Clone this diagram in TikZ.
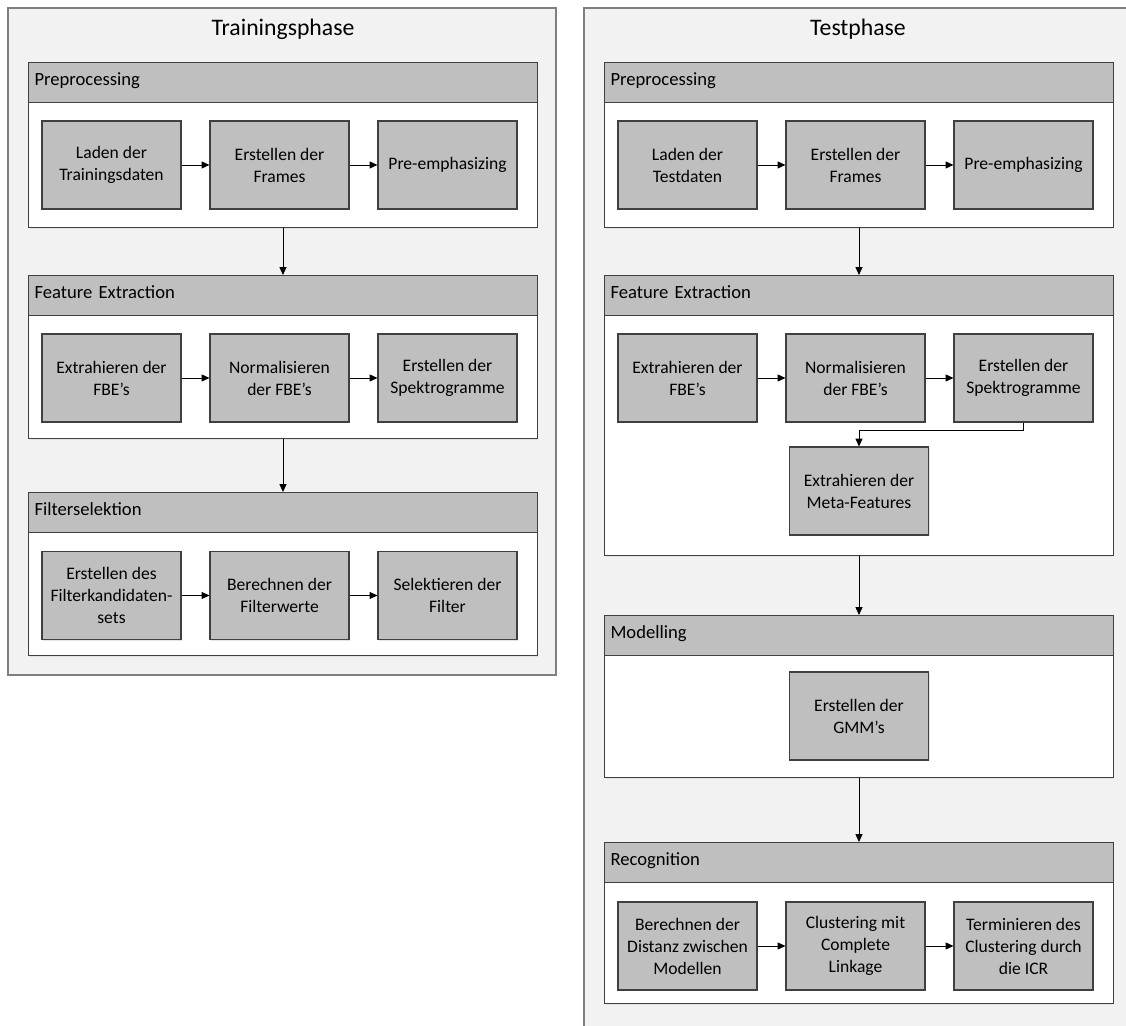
\documentclass[tikz,border=0pt]{standalone}
\usepackage{fontspec}
\setmainfont{Carlito}
\usetikzlibrary{arrows.meta, positioning, shadows}
\definecolor{panelbg}{HTML}{F2F2F2}
\definecolor{boxfill}{HTML}{BFBFBF}
\definecolor{edge}{HTML}{404040}
\definecolor{paneledge}{HTML}{7F7F7F}

\begin{document}
\begin{tikzpicture}[
    x=0.02cm, y=-0.02cm,
    panel/.style={draw=paneledge, fill=panelbg, line width=0.8pt},
    title/.style={font=\fontsize{13.5}{15}\selectfont},
    head/.style={draw=edge, fill=boxfill, anchor=north west, line width=0.6pt,
                 minimum width=10.18cm, minimum height=0.8cm, inner xsep=0.12cm,
                 text width=9.94cm, align=left, text depth=0.12cm,
                 font=\fontsize{10.6}{12}\selectfont},
    body/.style={draw=edge, fill=white, anchor=north west, line width=0.6pt,
                 minimum width=10.18cm,
                 drop shadow={opacity=0.15, shadow xshift=0.6pt, shadow yshift=-0.6pt}},
    stepbox/.style={draw=edge, fill=boxfill, line width=0.6pt,
                    minimum width=2.78cm, minimum height=1.76cm, align=center,
                    inner sep=1pt, font=\fontsize{10}{12.5}\selectfont,
                    drop shadow={opacity=0.2, shadow xshift=0.6pt, shadow yshift=-0.6pt}},
    flow/.style={-{Triangle[length=4.5pt, width=4pt]}, line width=0.5pt, draw=black}
  ]
  \clip (0,0) rectangle (1126,1026);

  % Trainingsphase
  \draw[panel] (8,8) rectangle (556,675);
  \node[title] (ttitle) at (283,29) {Trainingsphase};

  \node[head] (tprehead) at (28,62) {Preprocessing};
  \node[body, minimum height=2.5cm] (tprebody) at (28,102) {};
  \node[stepbox] (tload) at (111.5,165) {Laden der\\Trainingsdaten};
  \node[stepbox] (tframes) at (279.5,165) {Erstellen der\\Frames};
  \node[stepbox] (temph) at (447.5,165) {Pre-emphasizing};

  \node[head] (tfeathead) at (28,275) {Feature Extraction};
  \node[body, minimum height=2.46cm] (tfeatbody) at (28,315) {};
  \node[stepbox] (tfbe) at (111.5,378) {Extrahieren der\\FBE’s};
  \node[stepbox] (tnorm) at (279.5,378) {Normalisieren\\der FBE’s};
  \node[stepbox] (tspec) at (447.5,378) {Erstellen der\\Spektrogramme};

  \node[head] (tfilthead) at (28,492) {Filterselektion};
  \node[body, minimum height=2.46cm] (tfiltbody) at (28,532) {};
  \node[stepbox] (tcand) at (111.5,595.5) {Erstellen des\\Filterkandidaten-\\sets};
  \node[stepbox] (tvals) at (279.5,595.5) {Berechnen der\\Filterwerte};
  \node[stepbox] (tsel) at (447.5,595.5) {Selektieren der\\Filter};

  \draw[flow] (tload) -- (tframes);
  \draw[flow] (tframes) -- (temph);
  \draw[flow] (tfbe) -- (tnorm);
  \draw[flow] (tnorm) -- (tspec);
  \draw[flow] (tcand) -- (tvals);
  \draw[flow] (tvals) -- (tsel);
  \draw[flow] (tprebody.south) -- (tfeathead.north);
  \draw[flow] (tfeatbody.south) -- (tfilthead.north);

  % Testphase
  \draw[panel] (584,8) rectangle (1160,1060);
  \node[title] (etitle) at (858,29) {Testphase};

  \node[head] (eprehead) at (604,62) {Preprocessing};
  \node[body, minimum height=2.5cm] (eprebody) at (604,102) {};
  \node[stepbox] (eload) at (687.5,165) {Laden der\\Testdaten};
  \node[stepbox] (eframes) at (855.5,165) {Erstellen der\\Frames};
  \node[stepbox] (eemph) at (1023.5,165) {Pre-emphasizing};

  \node[head] (efeathead) at (604,275) {Feature Extraction};
  \node[body, minimum height=4.8cm] (efeatbody) at (604,315) {};
  \node[stepbox] (efbe) at (687.5,378) {Extrahieren der\\FBE’s};
  \node[stepbox] (enorm) at (855.5,378) {Normalisieren\\der FBE’s};
  \node[stepbox] (espec) at (1023.5,378) {Erstellen der\\Spektrogramme};
  \node[stepbox] (emeta) at (859,491) {Extrahieren der\\Meta-Features};

  \node[head] (emodhead) at (604,615) {Modelling};
  \node[body, minimum height=2.44cm] (emodbody) at (604,655) {};
  \node[stepbox] (egmm) at (859,716) {Erstellen der\\GMM’s};

  \node[head] (ereghead) at (604,842) {Recognition};
  \node[body, minimum height=2.42cm] (eregbody) at (604,882) {};
  \node[stepbox] (edist) at (687.5,946) {Berechnen der\\Distanz zwischen\\Modellen};
  \node[stepbox] (eclust) at (855.5,946) {Clustering mit\\Complete\\Linkage};
  \node[stepbox] (eterm) at (1023.5,946) {Terminieren des\\Clustering durch\\die ICR};

  \draw[flow] (eload) -- (eframes);
  \draw[flow] (eframes) -- (eemph);
  \draw[flow] (efbe) -- (enorm);
  \draw[flow] (enorm) -- (espec);
  \draw[flow] (espec.south) -- ++(0,8) -| (emeta.north);
  \draw[flow] (edist) -- (eclust);
  \draw[flow] (eclust) -- (eterm);
  \draw[flow] (eprebody.south -| efeathead.north) -- (efeathead.north);
  \draw[flow] (efeatbody.south) -- (emodhead.north);
  \draw[flow] (emodbody.south) -- (ereghead.north);
\end{tikzpicture}
\end{document}
